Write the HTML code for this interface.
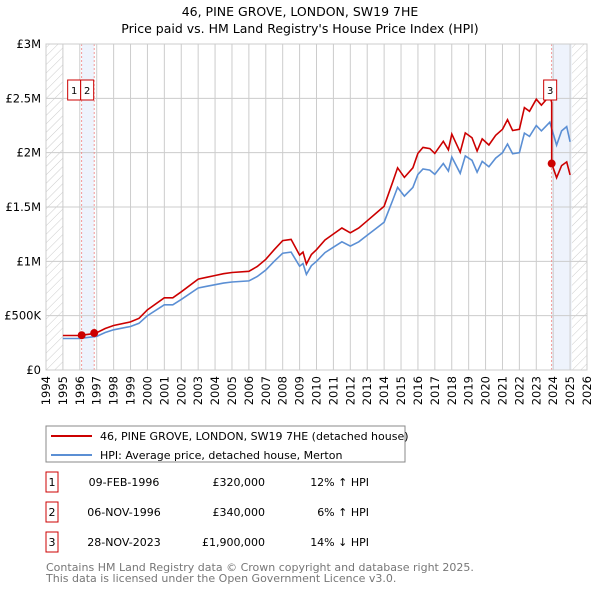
<!DOCTYPE html>
<html><head><meta charset="utf-8"><style>
body{margin:0;background:#fff;font-family:"Liberation Sans","DejaVu Sans",sans-serif;}
svg text{font-family:"DejaVu Sans","Liberation Sans",sans-serif;}
</style></head><body>
<svg width="600" height="590" xmlns="http://www.w3.org/2000/svg">
<defs><pattern id="hatch" width="6" height="6" patternUnits="userSpaceOnUse" patternTransform="rotate(45)"><line x1="0" y1="0" x2="0" y2="6" stroke="#ccc" stroke-width="1"/></pattern></defs>
<text x="300" y="16" text-anchor="middle" font-size="12.5">46, PINE GROVE, LONDON, SW19 7HE</text>
<text x="300" y="33" text-anchor="middle" font-size="12.5">Price paid vs. HM Land Registry's House Price Index (HPI)</text>
<g id="plot"></g>
<g>
<rect x="46" y="426" width="359" height="36" fill="#fff" stroke="#888"/>
<line x1="51" y1="436" x2="92" y2="436" stroke="#cc0000" stroke-width="2"/>
<text x="100" y="440" font-size="11">46, PINE GROVE, LONDON, SW19 7HE (detached house)</text>
<line x1="51" y1="455" x2="92" y2="455" stroke="#5b8fd4" stroke-width="2"/>
<text x="100" y="459" font-size="11">HPI: Average price, detached house, Merton</text>
</g>
<g id="table" font-size="11"></g>
<text x="46" y="571" font-size="11" fill="#777">Contains HM Land Registry data © Crown copyright and database right 2025.</text>
<text x="46" y="582" font-size="11" fill="#777">This data is licensed under the Open Government Licence v3.0.</text>
</svg>
<script>
const hpiYears=[1995,1996,1997,1997.5,1998,1999,1999.5,2000,2001,2001.5,2002,2003,2003.5,2004,2004.5,2005,2006,2006.5,2007,2007.5,2008,2008.5,2009,2009.2,2009.4,2009.7,2010,2010.5,2011,2011.5,2012,2012.5,2013,2013.5,2014,2014.5,2014.8,2015.2,2015.7,2016,2016.3,2016.7,2017,2017.5,2017.8,2018,2018.5,2018.8,2019.2,2019.5,2019.8,2020.2,2020.6,2021,2021.3,2021.6,2022,2022.3,2022.6,2023,2023.3,2023.8,2024.2,2024.5,2024.8,2025];
const hpiValues=[290,290,310,345,370,400,430,500,600,600,650,755,770,785,800,810,820,860,920,1000,1075,1085,955,980,880,960,1000,1080,1130,1180,1140,1180,1240,1300,1360,1560,1680,1600,1680,1800,1850,1840,1800,1900,1830,1960,1810,1970,1930,1820,1920,1870,1950,2000,2080,1990,2000,2180,2150,2250,2200,2280,2070,2200,2240,2100];
const saleYears=[1996.11,1996.85,2023.91];
const salePrices=[320,340,1900];
const saleLabels=["1","2","3"];
const saleDates=["09-FEB-1996","06-NOV-1996","28-NOV-2023"];
const salePriceText=["£320,000","£340,000","£1,900,000"];
const saleHpiText=["12% ↑ HPI","6% ↑ HPI","14% ↓ HPI"];
const yTicks=[0,500,1000,1500,2000,2500,3000];
const yTickLabels=["£0","£500K","£1M","£1.5M","£2M","£2.5M","£3M"];
const xTicks=[1994,1995,1996,1997,1998,1999,2000,2001,2002,2003,2004,2005,2006,2007,2008,2009,2010,2011,2012,2013,2014,2015,2016,2017,2018,2019,2020,2021,2022,2023,2024,2025,2026];

const L=46,R=587,T=44,B=370;
const X=y=>L+(y-1994)/(2026-1994)*(R-L);
const Y=v=>B-v/3000*(B-T);
const NS="http://www.w3.org/2000/svg";
const plot=document.getElementById('plot');
function mk(tag,attrs,parent){const e=document.createElementNS(NS,tag);for(const k in attrs)e.setAttribute(k,attrs[k]);(parent||plot).appendChild(e);return e;}
function hpiAt(t){for(let i=0;i<hpiYears.length-1;i++){if(t<=hpiYears[i+1]){const f=(t-hpiYears[i])/(hpiYears[i+1]-hpiYears[i]);return hpiValues[i]+f*(hpiValues[i+1]-hpiValues[i]);}}return hpiValues[hpiValues.length-1];}

let e=mk('rect',{x:L,y:T,width:X(1995)-L,height:B-T,fill:'url(#hatch)'});


e=mk('rect',{x:X(2025.1),y:T,width:R-X(2025.1),height:B-T,fill:'url(#hatch)'});


e=mk('rect',{x:X(saleYears[0]),y:T,width:X(saleYears[1])-X(saleYears[0]),height:B-T,fill:'#eef3fc'});


e=mk('rect',{x:X(saleYears[2]),y:T,width:X(2025.1)-X(saleYears[2]),height:B-T,fill:'#eef3fc'});



xTicks.forEach(t=>{
 const g=mk('line',{x1:X(t),x2:X(t),y1:T,y2:B,stroke:'#ccc'});
 
 
 const tx=mk('text',{x:0,y:0,'font-size':11.5,'text-anchor':'end',transform:`translate(${X(t)+4},${B+6}) rotate(-90)`});
 tx.textContent=t;
 
 
});
yTicks.forEach((v,i)=>{
 const g=mk('line',{x1:L,x2:R,y1:Y(v),y2:Y(v),stroke:'#ccc'});
 
 
 const tx=mk('text',{x:L-5,y:Y(v)+4,'font-size':11.5,'text-anchor':'end'});
 tx.textContent=yTickLabels[i];
 
 
});
saleYears.forEach(s=>{
 const l=mk('line',{x1:X(s),x2:X(s),y1:T,y2:B,stroke:'#f08080','stroke-dasharray':'2,2','stroke-width':0.8});
 
 
});
// HPI line
let d=hpiYears.map((t,i)=>(i?'L':'M')+X(t).toFixed(1)+','+Y(hpiValues[i]).toFixed(1)).join('');
e=mk('path',{d:d,fill:'none',stroke:'#5b8fd4','stroke-width':1.6});


// property line: HPI scaled by most recent sale ratio
const ratios=saleYears.map((s,i)=>salePrices[i]/hpiAt(s));
let pts=[];
const ts=[1995].concat(hpiYears.filter(t=>t>1995));
saleYears.forEach(s=>ts.push(s,s+0.001));
ts.sort((a,b)=>a-b);
ts.forEach(t=>{let k=0;for(let i=0;i<saleYears.length;i++)if(t>saleYears[i])k=i;pts.push([t,hpiAt(t)*ratios[k]]);});
d=pts.map((p,i)=>(i?'L':'M')+X(p[0]).toFixed(1)+','+Y(p[1]).toFixed(1)).join('');
e=mk('path',{d:d,fill:'none',stroke:'#cc0000','stroke-width':1.6});


saleYears.forEach((s,i)=>{
 const c=mk('circle',{cx:X(s),cy:Y(salePrices[i]),r:4,fill:'#cc0000'});
 
 
});
// sale label boxes
const boxes=[[X(saleYears[0])-14,'1'],[X(saleYears[0])-1,'2'],[X(saleYears[2])-8,'3']];
boxes.forEach(b=>{
 const r=mk('rect',{x:b[0],y:80,width:13,height:20,fill:'#fff',stroke:'#cc0000'});
 
 
 const t=mk('text',{x:b[0]+6.5,y:94,'font-size':10,'text-anchor':'middle'});
 t.textContent=b[1];
 
 
});
const ax=mk('rect',{x:L,y:T,width:R-L,height:B-T,fill:'none',stroke:'#ccc'});



const tbl=document.getElementById('table');
saleLabels.forEach((lab,i)=>{
 const y=483+i*30;
 const r=mk('rect',{x:46,y:y-11,width:12,height:20,fill:'#fff',stroke:'#cc0000'},tbl);
 
 
 const cells=[[52,lab,'middle'],[124,saleDates[i],'middle'],[265,salePriceText[i],'end'],[369,saleHpiText[i],'end']];
 cells.forEach(c=>{
  const t=mk('text',{x:c[0],y:y+3,'text-anchor':c[2],'font-size':11},tbl);
  t.textContent=c[1];
  
  
 });
});
</script>
</body></html>
